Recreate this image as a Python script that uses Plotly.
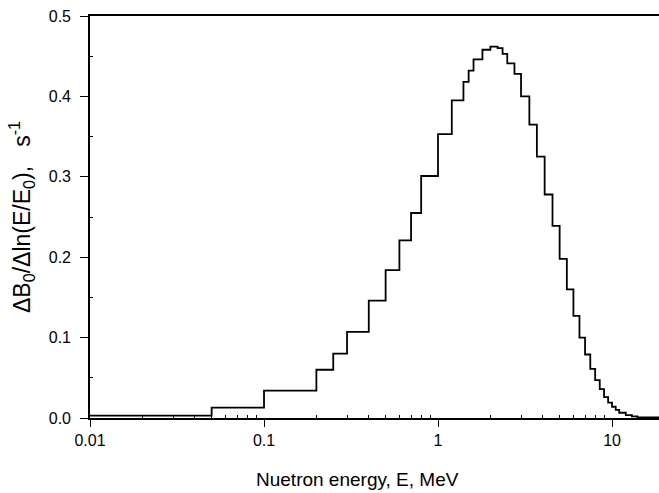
import plotly.graph_objects as go

# Bin edges (MeV) and histogram values (s^-1)
edges = [0.01, 0.05, 0.1, 0.2, 0.25, 0.3, 0.4, 0.5, 0.6, 0.7, 0.8, 1.0,
         1.2, 1.4, 1.5, 1.6, 1.8, 2.0, 2.2, 2.35, 2.5, 2.75, 3.0, 3.35,
         3.7, 4.1, 4.55, 5.0, 5.5, 6.0, 6.5, 7.0, 7.5, 8.0, 8.5, 9.0,
         9.5, 10.0, 10.5, 11.0, 12.0, 13.0, 14.0, 20.0]
values = [0.003, 0.013, 0.034, 0.060, 0.080, 0.107, 0.146, 0.184, 0.221,
          0.255, 0.301, 0.353, 0.395, 0.418, 0.432, 0.446, 0.458, 0.462,
          0.460, 0.453, 0.441, 0.428, 0.400, 0.365, 0.325, 0.278, 0.239,
          0.198, 0.160, 0.127, 0.100, 0.079, 0.061, 0.047, 0.036, 0.026,
          0.019, 0.014, 0.010, 0.0065, 0.0035, 0.002, 0.0008]

x_ticks = [0.01, 0.1, 1, 10]
x_tick_labels = ["0.01", "0.1", "1", "10"]
x_minor_ticks = [m * d for d in (0.01, 0.1, 1, 10) for m in range(2, 10)]
y_ticks = [0.0, 0.1, 0.2, 0.3, 0.4, 0.5]
y_tick_labels = ["0.0", "0.1", "0.2", "0.3", "0.4", "0.5"]
y_minor_ticks = [0.05, 0.15, 0.25, 0.35, 0.45]

x_title = "Nuetron energy, E, MeV"
y_title = "ΔB<sub>0</sub>/Δln(E/E<sub>0</sub>),\u00a0\u00a0 s<sup>-1</sup>"

xs = list(edges)
ys = list(values) + [values[-1]]

fig = go.Figure()
fig.add_trace(go.Scatter(x=xs, y=ys, mode="lines", line_shape="hv",
                         line=dict(color="black", width=1.8),
                         showlegend=False, hoverinfo="skip"))

FONT = "Liberation Sans, Arial, sans-serif"

fig.update_layout(
    width=659, height=493,
    margin=dict(l=90, r=0, t=16, b=75, pad=0),
    paper_bgcolor="white", plot_bgcolor="white",
    font=dict(family=FONT, size=16, color="black"),
    xaxis=dict(
        type="log", range=[-2, 1.27],
        tickmode="array", tickvals=x_ticks, ticktext=x_tick_labels,
        ticks="outside", ticklen=7, tickwidth=1.3, tickcolor="black",
        showline=True, linecolor="black", linewidth=1.6, mirror=True,
        showgrid=False, zeroline=False,
        tickfont=dict(size=16, family=FONT),
        minor=dict(ticks="inside", ticklen=3, tickwidth=1, tickcolor="black",
                   tickmode="array", tickvals=x_minor_ticks, showgrid=False),
    ),
    yaxis=dict(
        range=[0, 0.5],
        tickmode="array", tickvals=y_ticks, ticktext=y_tick_labels,
        ticks="outside", ticklen=8, tickwidth=1.3, tickcolor="black",
        showline=True, linecolor="black", linewidth=1.6,
        showgrid=False, zeroline=False,
        ticklabelstandoff=6,
        tickfont=dict(size=16, family=FONT),
        minor=dict(ticks="inside", ticklen=3, tickwidth=1, tickcolor="black",
                   tickmode="array", tickvals=y_minor_ticks, showgrid=False),
        title=dict(text=y_title, font=dict(size=23, family=FONT), standoff=12),
    ),
    annotations=[dict(text=x_title, xref="paper", yref="paper",
                      x=0.471, y=-0.154, xanchor="center", yanchor="middle",
                      showarrow=False, font=dict(size=19, family=FONT))],
)

fig.write_html("out.html")
